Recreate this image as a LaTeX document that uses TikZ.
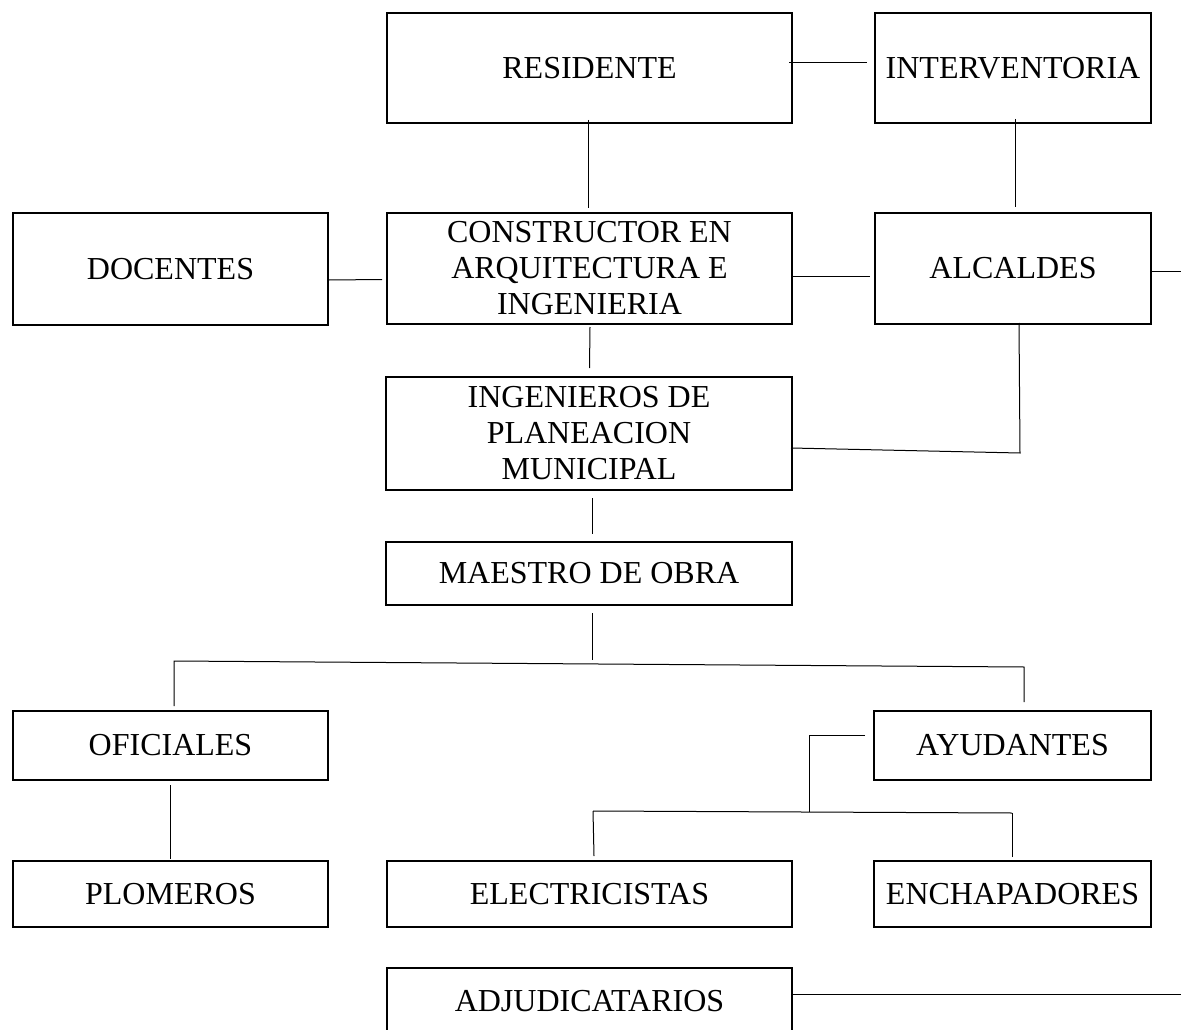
\documentclass[tikz,border=0pt]{standalone}
\usepackage{fontspec}
\setmainfont{Liberation Serif}
\begin{document}
\begin{tikzpicture}[x=1pt,y=-1pt,
  box/.style={draw,line width=2pt,rectangle,inner sep=0pt,align=center,
    font=\fontsize{32}{36}\selectfont},
  conn/.style={line width=1pt}]
\useasboundingbox (0,0) rectangle (1181,1030);
\clip (0,0) rectangle (1181,1030);
% boxes
\node[box,minimum width=405,minimum height=110] (res) at (589.5,68) {RESIDENTE};
\node[box,minimum width=276,minimum height=110] (int) at (1013,68) {INTERVENTORIA};
\node[box,minimum width=315,minimum height=112] (doc) at (170.5,269) {DOCENTES};
\node[box,minimum width=405,minimum height=111] (con) at (589.5,268.5) {CONSTRUCTOR EN\\ARQUITECTURA E\\INGENIERIA};
\node[box,minimum width=276,minimum height=111] (alc) at (1013,268.5) {ALCALDES};
\node[box,minimum width=406,minimum height=113] (ing) at (589,433.5) {INGENIEROS DE\\PLANEACION\\MUNICIPAL};
\node[box,minimum width=406,minimum height=63] (mae) at (589,573.5) {MAESTRO DE OBRA};
\node[box,minimum width=315,minimum height=69] (ofi) at (170.5,745.5) {OFICIALES};
\node[box,minimum width=277,minimum height=69] (ayu) at (1012.5,745.5) {AYUDANTES};
\node[box,minimum width=315,minimum height=66] (plo) at (170.5,894) {PLOMEROS};
\node[box,minimum width=405,minimum height=66] (ele) at (589.5,894) {ELECTRICISTAS};
\node[box,minimum width=277,minimum height=66] (enc) at (1012.5,894) {ENCHAPADORES};
\node[box,minimum width=405,minimum height=66] (adj) at (589.5,1001) {ADJUDICATARIOS};
% free-end coordinates
\coordinate (alcR) at (1181,271);
\coordinate (adjR) at (1181,994);
\coordinate (bL) at (174,661);
\coordinate (bR) at (1024,667);
\coordinate (aT) at (809,735);
\coordinate (aM) at (809,812);
\coordinate (eL) at (593,811);
\coordinate (eR) at (1012,813);
% connectors
\draw[conn] ([shift={(-1.5pt,4pt)}]res.south) -- ([shift={(-1.5pt,4pt)}]con.north);
\draw[conn] ([shift={(-4pt,5pt)}]res.east) -- ([shift={(-7pt,5pt)}]int.west);
\draw[conn] ([shift={(2pt,5pt)}]int.south) -- ([shift={(2pt,5pt)}]alc.north);
\draw[conn] ([yshift=-11pt]doc.east) -- ([shift={(-4pt,-11pt)}]con.west);
\draw[conn] ([yshift=-7.5pt]con.east) -- ([shift={(-4pt,-7.5pt)}]alc.west);
\draw[conn] ([yshift=-2.5pt]alc.east) -- (alcR);
\draw[conn] ([shift={(6pt,2pt)}]alc.south) -- ++(1,130) -- ([shift={(-2pt,-14.5pt)}]ing.east);
\draw[conn] ([shift={(0.5pt,-2pt)}]con.south) -- ([shift={(0.5pt,8pt)}]ing.north);
\draw[conn] ([shift={(3.5pt,-7pt)}]ing.south) -- ([shift={(3.5pt,7pt)}]mae.north);
\draw[conn] ([shift={(3pt,-7pt)}]mae.south) -- ++(0,47);
\draw[conn] ([shift={(3.5pt,4pt)}]ofi.north) -- (bL) -- (bR) -- ([shift={(11.5pt,8pt)}]ayu.north);
\draw[conn] ([yshift=-4pt]ofi.south) -- ([yshift=1pt]plo.north);
\draw[conn] ([shift={(-8pt,10.5pt)}]ayu.west) -- (aT) -- (aM);
\draw[conn] (eL) -- (eR);
\draw[conn] ([shift={(4.5pt,4pt)}]ele.north) -- (eL);
\draw[conn] ([shift={(-0.5pt,3pt)}]enc.north) -- (eR);
\draw[conn] ([yshift=7pt]adj.east) -- (adjR);
\end{tikzpicture}
\end{document}
